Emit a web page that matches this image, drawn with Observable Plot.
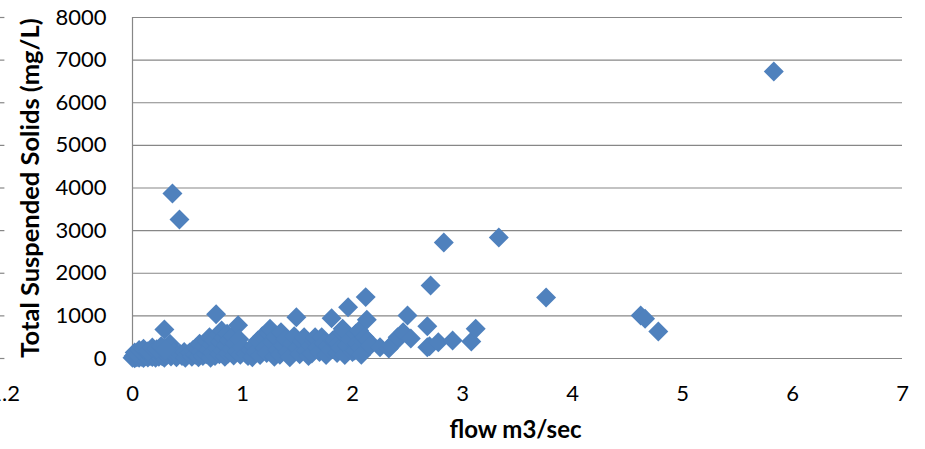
<!DOCTYPE html>
<html>
<head>
<meta charset="utf-8">
<script src="https://cdn.jsdelivr.net/npm/d3@7"></script>
<script src="https://cdn.jsdelivr.net/npm/@observablehq/plot@0.6"></script>
<style>
  html, body { margin: 0; padding: 0; background: #ffffff; }
  #chart svg { display: block; }
</style>
</head>
<body>
<div id="chart"></div>
<script>
// flow (m3/sec) and Total Suspended Solids (mg/L)
const flow = [
  0.00, 0.01, 0.02, 0.03, 0.04, 0.05, 0.06, 0.07, 0.08, 0.09, 0.10, 0.11, 0.12, 0.13, 0.14, 0.15,
  0.16, 0.17, 0.18, 0.19, 0.20, 0.21, 0.22, 0.23, 0.24, 0.25, 0.26, 0.27, 0.28, 0.29, 0.30, 0.31,
  0.33, 0.34, 0.35, 0.36, 0.38, 0.40, 0.41, 0.43, 0.45, 0.47, 0.48, 0.50,
  0.52, 0.54, 0.55, 0.57, 0.58, 0.60, 0.61, 0.62, 0.64, 0.65, 0.67, 0.68, 0.69, 0.70, 0.71, 0.72,
  0.73, 0.74, 0.75, 0.76, 0.77, 0.78, 0.79, 0.80, 0.81, 0.82, 0.83, 0.84, 0.85, 0.86, 0.87, 0.88,
  0.90, 0.91, 0.92, 0.93, 0.95, 0.96, 0.97, 0.98, 1.00,
  1.03, 1.05, 1.07, 1.09, 1.10, 1.12, 1.14, 1.16, 1.18, 1.20, 1.22, 1.24, 1.25, 1.27, 1.29, 1.30,
  1.32, 1.34, 1.35, 1.37, 1.39, 1.41, 1.43, 1.45, 1.47, 1.49, 1.50, 1.52, 1.54, 1.56, 1.58, 1.60,
  1.62, 1.63, 1.65, 1.66, 1.68, 1.70, 1.72, 1.74, 1.76, 1.78, 1.80, 1.81, 1.82, 1.84, 1.86, 1.87,
  1.89, 1.90, 1.91, 1.93, 1.95, 1.96, 1.98, 2.00, 2.02, 2.03, 2.04, 2.06, 2.07, 2.08, 2.10, 2.11,
  2.12, 2.13, 2.14, 2.16,
  2.25, 2.33, 2.35, 2.40, 2.41, 2.46, 2.50, 2.53, 2.68, 2.68, 2.70, 2.71, 2.78, 2.83, 2.91, 3.08,
  3.12, 3.33, 3.76, 4.62, 4.66, 4.78, 5.83,
  0.363, 0.427, 0.29,
  0.02, 0.06, 0.10, 0.14, 0.18, 0.22, 0.26, 0.30
];
const tss = [
  20, 60, 5, 90, 30, 110, 15, 70, 40, 130, 10, 80, 50, 150, 25, 95,
  60, 180, 35, 120, 70, 15, 160, 90, 40, 200, 110, 55, 240, 20, 130, 75,
  170, 344, 45, 100, 140, 30, 85, 120, 60, 150, 20, 95,
  140, 40, 200, 90, 260, 30, 344, 150, 60, 280, 100, 400, 200, 500, 20, 320,
  130, 420, 60, 1040, 240, 560, 100, 380, 657, 180, 480, 40, 300, 580, 120, 420,
  220, 520, 70, 350, 160, 780, 450, 90, 260,
  120, 60, 200, 30, 300, 150, 422, 80, 520, 250, 130, 600, 696, 380, 40, 500,
  200, 90, 617, 300, 450, 150, 30, 350, 520, 969, 240, 100, 400, 500, 180, 60,
  300, 117, 420, 500, 250, 150, 500, 350, 80, 280, 200, 945, 420, 422, 130, 345,
  250, 617, 696, 80, 300, 1200, 450, 150, 188, 579, 350, 657, 250, 90, 400, 500,
  1440, 910, 422, 300,
  265, 234, 305, 422, 500, 617, 1008, 469, 758, 265, 289, 1712, 383, 2720, 422, 399,
  696, 2838, 1431, 1008, 930, 633, 6733,
  3870, 3260, 680,
  140, 200, 230, 170, 260, 220, 290, 210
];
const yTicks = [0, 1000, 2000, 3000, 4000, 5000, 6000, 7000, 8000];
const xTickValues = [-1.2, 0, 1, 2, 3, 4, 5, 6, 7];
const xTickLabels = ["-1.2", "0", "1", "2", "3", "4", "5", "6", "7"];
const xTitle = "flow m3/sec";
const yTitle = "Total Suspended Solids (mg/L)";

const data = flow.map((f, i) => ({flow: f, tss: tss[i]}));
const gridColor = "#878787";

const chart = Plot.plot({
  width: 925,
  height: 449,
  marginTop: 17,
  marginBottom: 91,
  marginLeft: 0,
  marginRight: 23,
  x: {domain: [-1.2, 7], axis: null},
  y: {domain: [0, 8000], axis: null},
  style: {fontFamily: "Lato, 'Open Sans', sans-serif", background: "#ffffff", color: "#000000"},
  marks: [
    Plot.ruleY(yTicks, {y: d => d, x1: 0, x2: 7, stroke: gridColor, strokeWidth: 1.2}),
    Plot.ruleY(yTicks, {y: d => d, x1: -1.2, x2: -1.16, stroke: gridColor, strokeWidth: 1.2}),
    Plot.ruleX([0], {x: d => d, y1: 0, y2: 8000, stroke: gridColor, strokeWidth: 1.2}),
    Plot.dot(data, {x: "flow", y: "tss", symbol: "diamond2", r: 9, fill: "#4f81bd"}),
    Plot.text(yTicks, {x: 0, y: d => d, text: d => String(d), dx: -26, textAnchor: "end", fontSize: 22, fill: "#000"}),
    Plot.text(xTickValues, {x: d => d, y: 0, text: (d, i) => xTickLabels[i], dy: 35, fontSize: 22, fill: "#000"}),
    Plot.text([xTitle], {text: d => d, frameAnchor: "bottom", dx: 64, dy: 79, fontWeight: "bold", fontSize: 24, fill: "#000"}),
    Plot.text([yTitle], {text: d => d, frameAnchor: "left", textAnchor: "middle", lineAnchor: "middle", rotate: -90, dx: 30, fontWeight: "bold", fontSize: 25.5, fill: "#000"})
  ]
});
document.getElementById("chart").appendChild(chart);
</script>
</body>
</html>
